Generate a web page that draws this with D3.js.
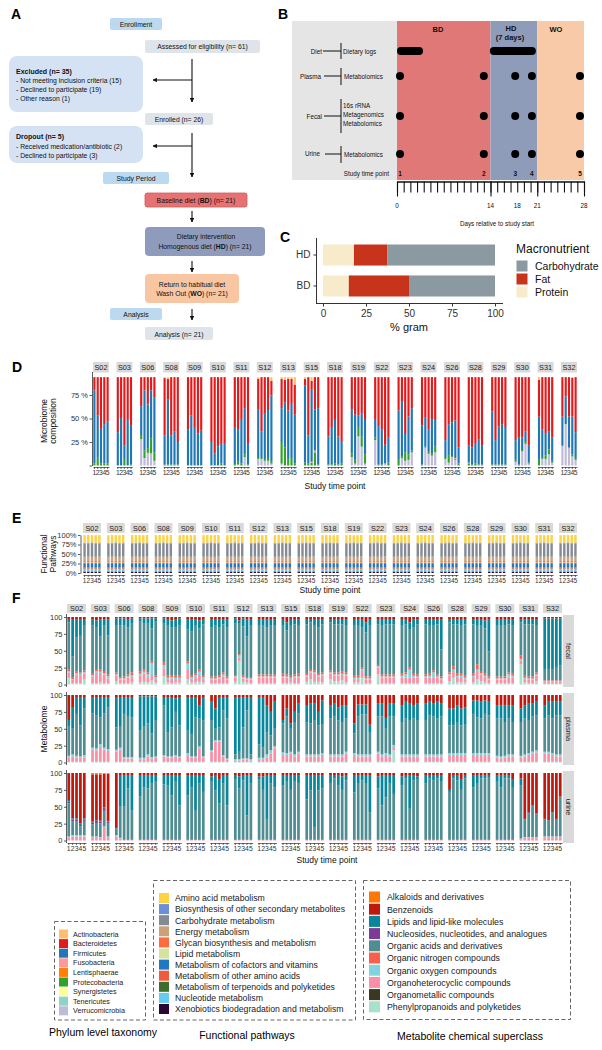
<!DOCTYPE html>
<html><head><meta charset="utf-8">
<script src="https://cdn.jsdelivr.net/npm/d3@7"></script>
<style>body{margin:0;background:#fff}svg{display:block;font-family:"Liberation Sans",Arial,sans-serif}</style>
</head><body><svg id="c" width="602" height="1050"></svg>
<script>
// ---------------- DATA ----------------
const subjects = ["S02","S03","S06","S08","S09","S10","S11","S12","S13","S15","S18","S19","S22","S23","S24","S26","S28","S29","S30","S31","S32"];
const timePoints = [1,2,3,4,5];

// Panel B
const dayTickLabels = [0,14,18,21,28];
const majorDays = [0,14,21,28];
const timePointDays = [0.45,13,17.7,20.2,27.4];
const dietLogDays = [[0.6,3.3],[14.5,20.2]];
const phaseNames = ["BD","HD","WO"];
const phaseStart = [0,14,21];
const phaseEnd = [14,21,28];

// Panel C (% gram)
const macroDiets = ["HD","BD"];
const macroProtein = [18,15];
const macroFat = [19.5,35];
const macroCarb = [62.5,50];

// Panel D (% of reads, 5 time points per subject)
const phylumNames = ["Actinobacteria","Bacteroidetes","Firmicutes","Fusobacteria","Lentisphaerae","Protecobacteria","Synergistetes","Tenericutes","Verrucomicrobia"];
const dVerruco = [0,0,0,0,0, 0,0,0,0,0, 28,8,13.5,13,5, 0,0,0,0,0, 0,0,0,0,0, 0,0,0,0,0, 0,1,0,9,0, 7,7,5,5,2, 2,0,0,0,0, 0,0,0,0,0, 0,0,0,0,0, 9,2,31,20,2, 27,0,0,2,0, 0,8,5,6,14, 0,19,12.5,10.5,14, 7,3,9,6,0, 0,0,0,0,0, 0,0,0,0,0, 4,0,15,23,2, 0,7,7,12,3, 21,44,19,9.6,6];
const dProteo = [2,9,2,2,2, 0.5,0.5,7,0.5,1, 3.5,8,5,16,9, 1,1,1,1,1, 0.5,0.5,0.5,0.5,0.5, 0.5,0.5,0.5,2,0.5, 1.5,3,2,3,1, 1,1,2,3,2, 23,19,7,8,2, 3,2,3,14,1, 1,1,2,1,2, 4,4,10,10.6,10, 3,1,1,0.5,3, 6,2,9,6,2, 1,1,2,2,6, 1,8,1,1,2, 2,1,2,1,1, 1,1,1,1,1, 2,1,1.5,2,1, 7,2,4,5,2, 0,0,0,2,2];
const dLenti = [0,0,0,0,0, 0,0,0,0,0, 0,0,0,0,0, 0,0,0,0,0, 0,0,0,0,0, 0,0,0,0,0, 0,0,0,0,0, 0,0,0,0,0, 0,0,0,0,0, 0,0,0,0,0, 0,0,0,0,0, 0,0,0,0,0, 0,0,0,0,0, 0,0,0,0,0, 0,0,0,0,0, 0,0,0,0,0, 1,0,0,0,0, 0,0,0,0,0, 0,0,0,0,0, 0,0,0,0,0, 0,0,0,0,0];
const dFuso = [0,0,0,0,0, 0,0,0,0,0, 0,0,0,0,0, 0,0,0,0,0, 0,0,0,0,0, 0,0,0,0,0, 0,0,0,0,0, 0,0,0,0,0, 0,0,0,0,0, 0,0,1,2,0, 0,0,0,0,0, 0,0,0,0,0, 0,0,0,0,0, 0,0,0,0,0, 0,0,0,0,0, 0,0,0,1,0, 0,0,0,0,0, 0,0,0,0,0, 0,0,0,0,0, 0,0,0,0,0, 0,0,0,0,0];
const dFirm = [78,44,37,42,45, 35,50,14,49,42, 31.5,64,46.5,51,58, 31,69,31,35.5,24, 37.5,52.5,39.5,33.5,36.5, 24.5,12.5,20,21,22.5, 38.5,34,46.5,49,22, 52,28.5,48,51,70.5, 36,48,51.5,57.5,52, 82,30,76.5,43.5,60, 30,40,46.5,30,24, 47,48,12,25,36.5, 18.5,41,37,19.5,26.5, 52.5,58.5,19.5,40,45, 41.5,31.5,23.5,37,28.5, 19,33,36,40,17, 18,18,22,27,20, 56.5,26,40.5,43,39, 21,28.5,13.5,11.5,18, 45,29,23.5,19.5,24.5, 31,29.5,33,40.5,27.5];
const dBact = [14,41,55,50,47, 58.5,43.5,73,44.5,51, 31,14,29,14,22, 61,22,62,57.5,69, 56,41,54,60,57, 69,81,73.5,71,71, 54,56,45.5,33,71, 32,57.5,39,35,15.5, 31,24,33.5,26.5,32, 7,62,9.5,34.5,33, 63,53,45.5,63,68, 34,40,41,38.5,45.5, 45.5,52,56,72,64.5, 35.5,25.5,60.5,42,33, 51.5,42.5,56,44.5,45.5, 67,50,48,46,75, 73,75,70,66,73, 36.5,67,52.5,50,54, 67,64.5,64,57.5,73, 39,56,59.5,57.5,64.5, 42,20.5,42,41,58.5];
const dActino = [0,0,0,0,0, 0,0,0,0,0, 0,0,0,0,0, 1,2,0,0,0, 0,0,0,0,0, 0,0,0,0,0, 0,0,0,0,0, 2,0,0,0,4, 2,3,2,2,8, 2,0,4,0,0, 0,0,0,0,0, 0,0,0,0,0, 0,0,0,0,0, 0,0,0,0,0, 0,0,0,0,0, 0,0,0,0,0, 0,0,0,0,0, 0,0,0,0,0, 0,0,0,0,0, 3,0,0,0,0, 0,0,0,1,0];

// Panel E (% of pathway abundance, by time point)
const pathwayNames = ["Amino acid metabolism","Biosynthesis of other secondary metabolites","Carbohydrate metabolism","Energy metabolism","Glycan biosynthesis and metabolism","Lipid metabolism","Metabolism of cofactors and vitamins","Metabolism of other amino acids","Metabolism of terpenoids and polyketides","Nucleotide metabolism","Xenobiotics biodegradation and metabolism"];
const eAminoAcid = [20,20,19,20,20];
const eBiosynthesis = [2,2,2,2,2];
const eCarbohydrate = [35,35,36,35,35];
const eEnergy = [11,11.5,11,11,11.5];
const eGlycan = [4,4,4,4,4];
const eLipid = [1.5,1.5,1.5,1.5,1.5];
const eCofactors = [12,12,12,12,12];
const eOtherAmino = [2.5,2.5,2.5,2.5,2.5];
const eTerpenoids = [1.5,1.5,1.5,1.5,1.5];
const eNucleotide = [6,6,6,6,6];
const eXenobiotics = [4,4,4,4,4];

// Panel F (% metabolome, per sample type)
const superclassNames = ["Alkaloids and derivatives","Benzenoids","Lipids and lipid-like molecules","Nucleosides, nucleotides, and analogues","Organic acids and derivatives","Organic nitrogen compounds","Organic oxygen compounds","Organoheterocyclic compounds","Organometallic compounds","Phenylpropanoids and polyketides"];
const sampleTypes = ["fecal","plasma","urine"];
const fecalBenz = [3,3,3,3,3, 4,5,4,4,4, 2,2,2,3,2, 2,2,2,2,2, 2,3,5,3,2, 3,3,3,5,3, 3,3,3,3,3, 2,5,2,4,3, 3,3,3,3,3, 3,8,3,3,3, 3,3,3,3,3, 3,3,3,3,3, 3,3,3,8,3, 3,3,3,3,3, 3,3,8,3,3, 3,3,3,3,3, 3,3,3,3,3, 3,3,3,5,3, 3,3,3,3,3, 3,3,3,3,3, 2,2,2,2,2];
const fecalLipid = [5,55,27,25,10, 8,10,25,8,23, 10,10,10,12,8, 5,8,8,15,5, 8,10,10,12,10, 15,18,10,12,8, 12,10,12,8,12, 8,5,12,25,10, 10,10,12,10,10, 10,12,10,8,10, 8,5,10,12,8, 5,8,8,8,10, 10,10,12,15,10, 8,10,8,8,8, 10,8,10,12,8, 8,10,10,8,45, 5,8,8,10,8, 8,10,10,12,48, 10,10,10,8,10, 5,8,8,8,10, 75,75,75,72,70];
const fecalAcid = [70,32,51,54,66, 71,62,49,68,58, 70,77,76,70,72, 74,68,72,48,80, 57,74,71,72,75, 48,65,71,61,75, 73,75,71,71,73, 76,45,73,60,76, 72,72,70,72,72, 71,65,74,74,71, 72,69,66,68,71, 71,71,71,70,69, 74,74,60,65,75, 60,72,74,74,74, 71,71,57,69,74, 74,71,66,74,40, 74,62,73,71,76, 73,57,67,67,37, 75,75,75,71,71, 49,76,77,77,69, 17,17,17,20,22];
const fecalNitro = [2,2,2,2,3, 3,3,3,3,3, 3,2,3,3,4, 3,3,3,3,2, 4,3,3,3,3, 3,3,2,3,3, 3,3,3,3,3, 2,2,2,2,2, 3,3,3,3,3, 4,3,3,3,4, 3,3,3,3,3, 3,3,3,3,3, 3,3,2,3,3, 2,3,3,3,3, 3,3,3,3,3, 3,3,3,3,3, 3,5,3,3,3, 3,8,3,3,3, 3,3,3,3,3, 5,3,3,3,3, 1,1,1,1,1];
const fecalOxy = [2,1,2,2,2, 2,3,2,2,3, 2,2,2,2,3, 3,3,4,18,3, 5,2,2,2,2, 8,3,3,5,3, 2,2,2,3,2, 2,3,2,2,2, 2,2,2,2,2, 2,2,2,2,2, 2,2,2,2,2, 2,2,2,2,2, 2,2,3,2,2, 2,2,2,2,2, 3,5,12,3,2, 2,3,8,2,2, 2,2,2,2,2, 2,2,2,2,2, 2,2,2,5,3, 3,2,2,2,2, 1,1,1,1,1];
const fecalHet = [8,5,13,12,8, 10,15,14,13,7, 8,5,5,8,8, 10,12,8,8,5, 12,5,7,5,5, 15,5,8,10,5, 5,5,7,10,5, 6,5,5,4,5, 8,8,8,8,8, 8,8,5,8,8, 8,10,12,8,10, 8,8,8,8,10, 5,5,10,5,5, 10,8,8,8,8, 8,8,8,8,8, 8,8,8,8,5, 8,10,8,8,5, 8,12,10,8,5, 5,5,5,8,8, 5,5,5,5,8, 3,3,3,3,3];
const fecalPhen = [10,2,2,2,8, 2,2,3,2,2, 5,2,2,2,3, 3,4,3,6,3, 12,3,2,3,3, 8,3,3,4,3, 2,2,2,2,2, 4,35,4,3,2, 2,2,2,2,2, 2,2,3,2,2, 4,8,4,4,3, 8,5,5,6,3, 3,3,10,2,2, 15,2,2,2,2, 2,2,2,2,2, 2,2,2,2,2, 5,10,3,3,3, 3,8,5,3,2, 2,2,2,2,2, 30,3,2,2,5, 1,1,1,1,1];

const plasmaBenz = [37,19,3,3,3, 3,3,3,3,3, 3,3,3,3,3, 2,2,2,2,2, 3,3,3,5,3, 3,3,3,15,3, 10,20,3,3,3, 3,3,3,3,3, 3,3,15,25,10, 37,20,42,25,12, 16,12,12,25,8, 15,12,18,15,15, 42,14,14,14,44, 12,12,34,12,12, 15,10,12,15,12, 12,10,12,10,12, 20,20,15,20,18, 8,8,10,8,10, 15,15,15,15,15, 20,15,12,12,10, 15,10,10,10,10];
const plasmaLipid = [10,30,25,42,17, 24,27,30,24,15, 45,43,25,28,30, 50,45,40,55,35, 12,52,45,20,42, 50,55,30,20,35, 27,30,45,20,32, 85,80,45,20,85, 70,75,40,35,40, 5,12,8,15,15, 25,30,25,20,35, 20,20,20,25,20, 15,18,15,15,12, 20,20,15,20,20, 25,25,25,20,25, 25,20,20,25,20, 25,25,25,25,25, 20,25,25,20,20, 20,20,25,20,25, 20,20,25,20,20, 20,20,25,20,20];
const plasmaAcid = [43,39,62,46,69, 51,49,40,51,62, 33,32,64,61,59, 41,46,46,35,54, 74,36,43,64,46, 33,33,58,41,53, 45,17,19,66,59, 7,12,46,71,7, 20,15,33,22,26, 43,54,34,48,57, 47,46,51,43,43, 53,56,50,48,49, 29,56,59,59,32, 52,56,37,56,42, 48,53,51,53,51, 51,58,56,53,56, 41,41,46,41,43, 58,53,51,58,56, 55,56,50,53,48, 50,53,49,52,52, 49,54,51,58,58];
const plasmaOxy = [3,3,3,2,4, 3,3,4,3,3, 3,3,2,2,2, 2,2,3,2,2, 2,2,2,2,2, 3,2,2,3,2, 2,2,2,2,2, 2,2,2,2,2, 2,2,5,5,3, 4,3,3,3,3, 3,3,3,3,3, 3,3,3,3,3, 3,3,3,3,3, 3,3,3,3,3, 3,3,3,3,3, 3,3,3,3,3, 3,3,3,3,3, 3,3,3,3,3, 3,3,3,3,3, 3,3,3,3,3, 3,3,3,3,3];
const plasmaHet = [6,8,6,6,6, 18,17,22,18,16, 15,18,5,5,5, 4,4,8,5,6, 8,6,6,8,6, 10,6,6,20,6, 15,30,30,8,3, 2,2,3,3,2, 4,4,6,12,20, 10,10,12,8,12, 8,8,8,8,10, 8,8,8,8,12, 10,8,8,8,8, 12,8,10,8,5, 8,8,8,8,8, 8,8,8,8,8, 10,10,10,10,10, 10,10,10,10,10, 6,5,6,8,8, 6,8,10,12,14, 12,12,10,8,8];
const plasmaPhen = [1,1,1,1,1, 1,1,1,1,1, 1,1,1,1,1, 1,1,1,1,1, 1,1,1,1,1, 1,1,1,1,1, 1,1,1,1,1, 1,1,1,1,1, 1,1,1,1,1, 1,1,1,1,1, 1,1,1,1,1, 1,1,1,1,1, 1,1,1,1,1, 1,1,1,1,18, 1,1,1,1,1, 1,1,1,1,1, 1,1,1,1,1, 1,1,1,1,1, 1,1,1,1,1, 1,1,1,1,1, 1,1,1,1,1];

const urineAlk = [0,0,0,0,0, 2,2,2,1,1, 0,0,0,0,0, 0,0,0,0,0, 0,0,0,0,0, 0,0,0,0,0, 0,0,0,0,0, 0,0,0,0,0, 0,0,0,0,0, 0,0,0,0,0, 0,0,0,0,0, 0,0,0,0,0, 0,0,0,0,0, 0,0,0,0,0, 0,0,0,0,0, 0,0,0,0,0, 0,0,0,0,0, 0,0,0,0,0, 0,0,0,0,0, 0,0,0,0,0, 0,0,0,0,0];
const urineBenz = [40,67,67,75,67, 70,68,68,50,70, 80,3,3,3,3, 3,3,3,3,3, 3,3,3,3,3, 3,3,3,3,3, 5,3,10,3,3, 3,5,3,3,3, 5,5,3,3,3, 3,3,3,3,3, 3,3,3,3,3, 3,3,3,5,3, 3,3,3,3,3, 5,3,3,3,3, 5,3,3,3,5, 3,3,3,3,3, 25,3,3,10,3, 3,3,3,3,3, 3,3,3,3,10, 8,68,58,48,60, 68,70,58,68,35];
const urineNuc = [3,3,3,2,2, 3,3,3,4,2, 2,0,0,0,0, 0,0,0,0,0, 0,0,0,0,0, 0,0,0,0,0, 0,0,0,0,0, 0,0,0,0,0, 0,0,0,0,0, 0,0,0,0,0, 0,0,0,0,0, 0,0,0,0,0, 0,0,0,0,0, 0,0,0,0,0, 0,0,0,0,0, 0,0,0,0,0, 0,0,0,0,0, 0,0,0,0,0, 0,0,0,0,0, 0,1,2,1,1, 0,0,0,0,0];
const urineLipid = [2,2,2,2,2, 1,1,1,1,1, 0,47,46,20,52, 32,18,20,12,10, 14,15,30,10,45, 30,18,53,12,25, 8,23,35,12,45, 6,18,8,60,12, 5,20,65,12,18, 15,10,22,10,12, 36,23,78,23,20, 13,5,15,20,8, 26,13,8,13,55, 18,45,33,12,28, 13,5,50,8,5, 12,5,8,5,10, 3,5,8,15,5, 18,13,5,5,3, 10,18,5,5,12, 10,0,0,0,0, 0,0,0,0,0];
const urineAcid = [49,20,20,13,21, 18,20,20,23,20, 10,46,50,76,44, 64,78,76,84,86, 82,81,66,86,51, 66,78,43,84,71, 86,73,54,84,51, 90,76,88,36,84, 89,74,31,84,78, 81,86,74,86,84, 60,73,18,73,76, 83,91,81,74,88, 70,83,88,83,41, 76,51,63,84,68, 81,91,46,88,89, 84,91,88,91,86, 71,91,88,74,91, 78,83,91,91,93, 86,78,91,91,77, 79,26,35,46,34, 26,24,36,26,59];
const urineOxy = [2,2,2,2,2, 1,1,1,1,1, 2,1,0,0,0, 0,0,0,0,0, 0,0,0,0,0, 0,0,0,0,0, 0,0,0,0,0, 0,0,0,0,0, 0,0,0,0,0, 0,0,0,0,0, 0,0,0,0,0, 0,0,0,0,0, 0,0,0,0,0, 0,0,0,0,0, 0,0,0,0,0, 0,0,0,0,0, 0,0,0,0,0, 0,0,0,0,0, 0,0,0,0,0, 1,1,1,1,1, 1,1,1,1,1];
const urineHet = [4,6,6,6,6, 5,5,4,20,5, 6,3,1,1,1, 1,1,1,1,1, 1,1,1,1,1, 1,1,1,1,1, 1,1,1,1,1, 1,1,1,1,1, 1,1,1,1,1, 1,1,1,1,1, 1,1,1,1,1, 1,1,1,1,1, 1,1,1,1,1, 1,1,1,1,1, 1,1,1,1,1, 1,1,1,1,1, 1,1,1,1,1, 1,1,1,1,1, 1,1,1,1,1, 2,4,4,4,4, 5,5,5,5,5];

// ---------------- COLOURS ----------------
const phylumColors = ["#fdbf6f","#e31a1c","#1f78b4","#fb9a99","#ff7f00","#33a02c","#ffff99","#8dd3c7","#bebada"];
const pathwayColors = ["#ffd23f","#6c8fd9","#848b94","#c9a27c","#ff6b3d","#d6e3a0","#1f78c1","#ee5a3a","#3e6e2b","#64ccf0","#2a0833"];
const superclassColors = ["#ff7700","#c0180c","#08879c","#7e3b96","#4e8d91","#fb5f4b","#7fd4e0","#fb8fa6","#3a3820","#a8e0cc"];

// ---------------- HELPERS ----------------
const svg = d3.select("#c");
function txt(g,x,y,s,o={}){
  return g.append("text").attr("x",x).attr("y",y).text(s)
    .attr("font-size",o.size||6.8).attr("text-anchor",o.anchor||"start")
    .attr("font-weight",o.weight||null).attr("fill",o.fill||"#111");
}
function rich(g,x,y,parts,o={}){
  const t=g.append("text").attr("x",x).attr("y",y).attr("font-size",o.size||6.8)
    .attr("text-anchor",o.anchor||"middle").attr("fill","#111");
  parts.forEach(([s,b])=>t.append("tspan").text(s).attr("font-weight",b?"bold":null));
  return t;
}
function label(s,x,y){ txt(svg,x,y,s,{size:14,weight:"bold",fill:"#000"}); }

// ---------------- PANEL A ----------------
const A = svg.append("g");
svg.append("defs").append("marker").attr("id","arr").attr("viewBox","0 0 10 10")
  .attr("refX",9).attr("refY",5).attr("markerWidth",4).attr("markerHeight",4).attr("orient","auto")
  .append("path").attr("d","M0,0L10,5L0,10z").attr("fill","#111");
function box(x,y,w,h,fill,rx,stroke){ A.append("rect").attr("x",x).attr("y",y).attr("width",w).attr("height",h).attr("rx",rx).attr("fill",fill).attr("stroke",stroke||"none").attr("stroke-width",0.8); }
function arrow(x1,y1,x2,y2){ A.append("line").attr("x1",x1).attr("y1",y1).attr("x2",x2).attr("y2",y2).attr("stroke","#111").attr("stroke-width",1.1).attr("marker-end","url(#arr)"); }
label("A",11,19);
box(110,18,52,12,"#bcd9ef",2); txt(A,136,26.5,"Enrollment",{anchor:"middle"});
box(145,40,115,13,"#dfe4eb",2); txt(A,202.5,49,"Assessed for eligibility (n= 61)",{anchor:"middle"});
box(9,56,134,56,"#d5e2f3",8);
txt(A,16,73.5,"Excluded (n= 35)",{weight:"bold",size:7});
txt(A,16,82.5,"- Not meeting inclusion criteria (15)");
txt(A,16,91.5,"- Declined to participate (19)");
txt(A,16,100.5,"- Other reason (1)");
arrow(192,59,192,102); A.append("line").attr("x1",192).attr("y1",80).attr("x2",153).attr("y2",80).attr("stroke","#111").attr("stroke-width",1.1).attr("marker-end","url(#arr)");
box(145,113,68,12,"#dfe4eb",2); txt(A,179,121.5,"Enrolled (n= 26)",{anchor:"middle"});
box(9,126,134,37,"#d5e2f3",8);
txt(A,16,138.5,"Dropout (n= 5)",{weight:"bold",size:7});
txt(A,16,148.5,"- Received medication/antibiotic (2)");
txt(A,16,157.5,"- Declined to participate (3)");
arrow(192,133,192,177); arrow(192,146,153,146);
box(103,172,66,12,"#bcd9ef",2); txt(A,136,181,"Study Period",{anchor:"middle"});
box(145,193,102,14,"#e57373",2,"#d35a5a"); rich(A,196,203,[["Baseline diet ("],["BD",1],[") (n= 21)"]]);
arrow(192,211,192,222);
box(145,227,120,29,"#8e9bbd",4); txt(A,206,239,"Dietary intervention",{anchor:"middle"});
rich(A,205,248.5,[["Homogenous  diet ("],["HD",1],[") (n= 21)"]]);
arrow(192,261,192,272);
box(145,274,94,29,"#f8c6a3",4); txt(A,192,286.5,"Return to habitual diet",{anchor:"middle"});
rich(A,192,296,[["Wash Out ("],["WO",1],[") (n= 21)"]]);
box(110,308,52,12,"#bcd9ef",2); txt(A,136,316.5,"Analysis",{anchor:"middle"});
arrow(192,309,192,320);
box(145,327,68,13,"#dfe4eb",2); txt(A,179,336.5,"Analysis (n= 21)",{anchor:"middle"});

// ---------------- PANEL B ----------------
const B = svg.append("g");
label("B",278,19);
const bx = d3.scaleLinear([0,28],[397,584]);
const phaseColors = ["#e07878","#8e9cba","#f8caa8"];
B.append("rect").attr("x",292).attr("y",21).attr("width",bx(0)-292).attr("height",159).attr("fill","#e5e5e5");
phaseNames.forEach((p,i)=>{
  B.append("rect").attr("x",bx(phaseStart[i])).attr("y",21).attr("width",bx(phaseEnd[i])-bx(phaseStart[i])).attr("height",159).attr("fill",phaseColors[i]);
});
txt(B,438,31.5,"BD",{weight:"bold",size:7.5,anchor:"middle"});
txt(B,511,31,"HD",{weight:"bold",size:7.5,anchor:"middle"});
txt(B,510,40,"(7 days)",{weight:"bold",size:7.5,anchor:"middle"});
txt(B,556,31.5,"WO",{weight:"bold",size:7.5,anchor:"middle"});
function bLine(x1,y1,x2,y2){B.append("line").attr("x1",x1).attr("y1",y1).attr("x2",x2).attr("y2",y2).attr("stroke","#111").attr("stroke-width",1);}
const bs = 6.3;
txt(B,322,53.5,"Diet",{anchor:"end",size:bs}); bLine(323,51,341,51); bLine(341,43,341,59); txt(B,343,53.5,"Dietary logs",{size:bs});
txt(B,321,78.5,"Plasma",{anchor:"end",size:bs}); bLine(324,76,341,76); bLine(341,68,341,85); txt(B,344,78.5,"Metabolomics",{size:bs});
txt(B,322,118.5,"Fecal",{anchor:"end",size:bs}); bLine(324,116,341,116); bLine(341,99,341,133);
txt(B,343,108,"16s rRNA",{size:bs}); txt(B,343,117,"Metagenomics",{size:bs}); txt(B,343,126,"Metabolomics",{size:bs});
txt(B,320,156,"Urine",{anchor:"end",size:bs}); bLine(325,154,341,154); bLine(341,146,341,163); txt(B,344,156.5,"Metabolomics",{size:bs});
dietLogDays.forEach(d=>B.append("line").attr("x1",bx(d[0])).attr("x2",bx(d[1])).attr("y1",51).attr("y2",51).attr("stroke","#000").attr("stroke-width",8).attr("stroke-linecap","round"));
[76,116,154].forEach(y=>timePointDays.forEach(d=>B.append("circle").attr("cx",bx(d)).attr("cy",y).attr("r",4).attr("fill","#000")));
txt(B,389,175.5,"Study time point",{anchor:"end",size:bs});
timePointDays.forEach((d,i)=>txt(B,bx(d),175.5,String(timePoints[i]),{anchor:"middle",size:6.5,weight:"bold"}));
const minorAx = B.append("g").attr("transform","translate(0,181.5)")
  .call(d3.axisBottom(bx).tickValues(d3.range(0,29)).tickSize(11).tickSizeOuter(0).tickFormat(""));
const majorAx = B.append("g").attr("transform","translate(0,181.5)")
  .call(d3.axisBottom(bx).tickValues(majorDays).tickSize(15).tickSizeOuter(0).tickFormat(""));
[minorAx,majorAx].forEach(a=>{a.selectAll("line").attr("stroke","#111").attr("stroke-width",1.1);a.select(".domain").attr("stroke","#111").attr("stroke-width",1.2);});
dayTickLabels.forEach(d=>txt(B,bx(d),207.5,String(d),{anchor:"middle",size:6.3}));
txt(B,497,226,"Days relative to study start",{anchor:"middle",size:6.3});

// ---------------- PANEL C ----------------
const C = svg.append("g");
label("C",280,242);
const cx = d3.scaleLinear([0,100],[323,495]);
const cy = d3.scaleBand(macroDiets,[238,303]).paddingInner(0.32).paddingOuter(0.21);
const macroKeys = ["Protein","Fat","Carbohydrate"];
const macroColors = {Protein:"#f7ebcc",Fat:"#c8341b",Carbohydrate:"#8a9aa0"};
const macroRows = macroDiets.map((d,i)=>({diet:d,Protein:macroProtein[i],Fat:macroFat[i],Carbohydrate:macroCarb[i]}));
C.selectAll("g.ms").data(d3.stack().keys(macroKeys)(macroRows)).join("g").attr("fill",d=>macroColors[d.key])
  .selectAll("rect").data(d=>d).join("rect")
  .attr("x",d=>cx(d[0])).attr("width",d=>cx(d[1])-cx(d[0])).attr("y",d=>cy(d.data.diet)).attr("height",cy.bandwidth());
const cxa = C.append("g").attr("transform","translate(0,303.5)").call(d3.axisBottom(cx).tickValues([0,25,50,75,100]).tickSize(3).tickSizeOuter(0));
cxa.select(".domain").attr("d","M316,0H503");
const cya = C.append("g").attr("transform","translate(316.5,0)").call(d3.axisLeft(cy).tickSize(3).tickSizeOuter(0));
cya.select(".domain").attr("d","M0,238V303.5");
[cxa,cya].forEach(a=>{a.selectAll("text").attr("font-size",10).attr("fill","#333").attr("font-family","Liberation Sans, Arial, sans-serif");a.selectAll("line,.domain").attr("stroke","#333");});
txt(C,409,331,"% gram",{anchor:"middle",size:11});
txt(C,516,252.5,"Macronutrient",{size:12});
["Carbohydrate","Fat","Protein"].forEach((k,i)=>{
  C.append("rect").attr("x",516.5).attr("y",260.5+i*13).attr("width",11).attr("height",11).attr("fill",macroColors[k]);
  txt(C,535,269.5+i*13,k,{size:10.5});
});

// ---------------- FACET HELPERS ----------------
function strips(g,fx,y,h){
  subjects.forEach(s=>{
    g.append("rect").attr("x",fx(s)).attr("y",y).attr("width",fx.bandwidth()).attr("height",h).attr("fill","#d9d9d9");
    txt(g,fx(s)+fx.bandwidth()/2,y+h/2+2.6,s,{anchor:"middle",size:7.3,fill:"#1a1a1a"});
  });
}
function stackBars(g,rows,keys,colorOf,fx,tx,y){
  g.selectAll(null).data(d3.stack().keys(keys)(rows)).join("g").attr("fill",d=>colorOf(d.key))
   .selectAll("rect").data(d=>d).join("rect")
   .attr("x",d=>fx(d.data.subject)+tx(d.data.tp)).attr("width",tx.bandwidth())
   .attr("y",d=>y(d[1])).attr("height",d=>Math.max(0,y(d[0])-y(d[1])));
}
function xAxes(g,fx,tx,y,size){
  subjects.forEach(s=>{
    const a=g.append("g").attr("transform",`translate(${fx(s)},${y})`).call(d3.axisBottom(tx).tickSize(2).tickSizeOuter(0).tickPadding(1.5));
    a.selectAll("text").attr("font-size",size).attr("fill","#333").attr("font-family","Liberation Sans, Arial, sans-serif");
    a.selectAll("line,.domain").attr("stroke","#333").attr("stroke-width",0.7);
  });
}
function yAxis(g,x,y,vals,fmt){
  const a=g.append("g").attr("transform",`translate(${x},0)`).call(d3.axisLeft(y).tickValues(vals).tickSize(2.5).tickSizeOuter(0).tickFormat(fmt).tickPadding(1.5));
  a.selectAll("text").attr("font-size",7.5).attr("fill","#333").attr("font-family","Liberation Sans, Arial, sans-serif");
  a.selectAll("line,.domain").attr("stroke","#333").attr("stroke-width",0.8);
  return a;
}
function rotLabel(g,lines,x,y,size){
  lines.forEach((l,i)=>g.append("text").attr("transform",`translate(${x+i*9},${y}) rotate(-90)`).attr("text-anchor","middle").attr("font-size",size).attr("fill","#111").text(l));
}

// ---------------- PANEL D ----------------
const D = svg.append("g");
label("D",12,372);
const dfx = d3.scaleBand(subjects,[93,577]).paddingInner(0.316);
const dtx = d3.scaleBand(timePoints,[0,dfx.bandwidth()]).paddingInner(0.35).paddingOuter(0.1);
const dy = d3.scaleLinear([0,100],[465.5,371.5]);
const dSeries = {Actinobacteria:dActino,Bacteroidetes:dBact,Firmicutes:dFirm,Fusobacteria:dFuso,Lentisphaerae:dLenti,Protecobacteria:dProteo,Verrucomicrobia:dVerruco};
const dRows = d3.range(subjects.length*timePoints.length).map(i=>{
  const r={subject:subjects[Math.floor(i/5)],tp:timePoints[i%5]};
  phylumNames.forEach(k=>r[k]=dSeries[k]?dSeries[k][i]:0); return r;});
const phylumColor = k=>phylumColors[phylumNames.indexOf(k)];
strips(D,dfx,362,10.5);
stackBars(D,dRows,phylumNames.slice().reverse(),phylumColor,dfx,dtx,dy);
yAxis(D,92,dy,[0,25,50,75],d=>d===0?"":d+" %");
xAxes(D,dfx,dtx,467,6.8);
rotLabel(D,["Microbiome","composition"],46.5,421,8.5);
txt(D,335,489,"Study time point",{anchor:"middle",size:8.5});

// ---------------- PANEL E ----------------
const E = svg.append("g");
label("E",12,523);
const efx = d3.scaleBand(subjects,[83,577]).paddingInner(0.244);
const etx = d3.scaleBand(timePoints,[0,efx.bandwidth()]).paddingInner(0.35).paddingOuter(0.1);
const ey = d3.scaleLinear([0,100],[573,535]);
const eSeries = [eAminoAcid,eBiosynthesis,eCarbohydrate,eEnergy,eGlycan,eLipid,eCofactors,eOtherAmino,eTerpenoids,eNucleotide,eXenobiotics];
const eRows = d3.range(subjects.length*timePoints.length).map(i=>{
  const r={subject:subjects[Math.floor(i/5)],tp:timePoints[i%5]};
  pathwayNames.forEach((k,j)=>r[k]=eSeries[j][i%5]); return r;});
const pathwayColor = k=>pathwayColors[pathwayNames.indexOf(k)];
strips(E,efx,523,10);
stackBars(E,eRows,pathwayNames.slice().reverse(),pathwayColor,efx,etx,ey);
yAxis(E,80.5,ey,[0,25,50,75,100],d=>d+"%");
xAxes(E,efx,etx,575,6.5);
rotLabel(E,["Functional","Pathways"],46.5,554,8.5);
txt(E,330,593,"Study time point",{anchor:"middle",size:8.5});

// ---------------- PANEL F ----------------
const F = svg.append("g");
label("F",12,603);
const ffx = d3.scaleBand(subjects,[67,562]).paddingInner(0.2);
const ftx = d3.scaleBand(timePoints,[0,ffx.bandwidth()]).paddingInner(0.3).paddingOuter(0.1);
const fSeries = {
  fecal:{"Benzenoids":fecalBenz,"Lipids and lipid-like molecules":fecalLipid,"Organic acids and derivatives":fecalAcid,"Organic nitrogen compounds":fecalNitro,"Organic oxygen compounds":fecalOxy,"Organoheterocyclic compounds":fecalHet,"Phenylpropanoids and polyketides":fecalPhen},
  plasma:{"Benzenoids":plasmaBenz,"Lipids and lipid-like molecules":plasmaLipid,"Organic acids and derivatives":plasmaAcid,"Organic oxygen compounds":plasmaOxy,"Organoheterocyclic compounds":plasmaHet,"Phenylpropanoids and polyketides":plasmaPhen},
  urine:{"Alkaloids and derivatives":urineAlk,"Benzenoids":urineBenz,"Lipids and lipid-like molecules":urineLipid,"Nucleosides, nucleotides, and analogues":urineNuc,"Organic acids and derivatives":urineAcid,"Organic oxygen compounds":urineOxy,"Organoheterocyclic compounds":urineHet}
};
const superColor = k=>superclassColors[superclassNames.indexOf(k)];
const fTops = [614,692,770];
strips(F,ffx,604,9);
sampleTypes.forEach((t,ti)=>{
  const top=fTops[ti];
  const fy = d3.scaleLinear([0,100],[top+70.5,top+3]);
  const rows = d3.range(subjects.length*timePoints.length).map(i=>{
    const r={subject:subjects[Math.floor(i/5)],tp:timePoints[i%5]};
    const tot = d3.sum(superclassNames,k=>fSeries[t][k]?fSeries[t][k][i]:0);
    superclassNames.forEach(k=>r[k]=fSeries[t][k]?fSeries[t][k][i]/tot*100:0); return r;});
  const g=F.append("g");
  stackBars(g,rows,superclassNames.slice().reverse(),superColor,ffx,ftx,fy);
  const a=yAxis(g,66.5,fy,[0,25,50,75,100],d=>d);
  a.select(".domain").attr("d",`M0,${top}V${top+73}`);
  g.append("rect").attr("x",563).attr("y",top+1).attr("width",11).attr("height",72).attr("fill","#d9d9d9");
  g.append("text").attr("transform",`translate(566,${top+37}) rotate(90)`).attr("text-anchor","middle").attr("font-size",7.5).attr("fill","#1a1a1a").text(t);
});
xAxes(F,ffx,ftx,843,6.8);
rotLabel(F,["Metabolome"],46.5,729,8.5);
txt(F,327,863,"Study time point",{anchor:"middle",size:8.5});

// ---------------- LEGENDS ----------------
const L = svg.append("g");
function dashed(x,y,w,h){L.append("rect").attr("x",x).attr("y",y).attr("width",w).attr("height",h).attr("fill","none").attr("stroke","#666").attr("stroke-width",1).attr("stroke-dasharray","4,2.5");}
dashed(54.5,921.5,91,98.5);
phylumNames.forEach((n,i)=>{
  L.append("rect").attr("x",59).attr("y",929.5+i*9.6).attr("width",9).attr("height",9).attr("fill",phylumColors[i]);
  txt(L,73,936.6+i*9.6,n,{size:7.2,fill:"#222"});
});
txt(L,103,1036,"Phylum level taxonomy",{anchor:"middle",size:10.5,fill:"#000"});
dashed(153.5,880.5,202,139.5);
pathwayNames.forEach((n,i)=>{
  L.append("rect").attr("x",159).attr("y",893+i*11.1).attr("width",10).attr("height",10).attr("fill",pathwayColors[i]);
  txt(L,175,901.3+i*11.1,n,{size:8.7,fill:"#222"});
});
txt(L,247,1039,"Functional pathways",{anchor:"middle",size:10.5,fill:"#000"});
dashed(363.5,880.5,207,139);
superclassNames.forEach((n,i)=>{
  L.append("rect").attr("x",369).attr("y",891.5+i*12.2).attr("width",11).attr("height",11).attr("fill",superclassColors[i]);
  txt(L,387,900.3+i*12.2,n,{size:8.8,fill:"#222"});
});
txt(L,470,1040,"Metabolite chemical superclass",{anchor:"middle",size:10.5,fill:"#000"});
</script></body></html>
